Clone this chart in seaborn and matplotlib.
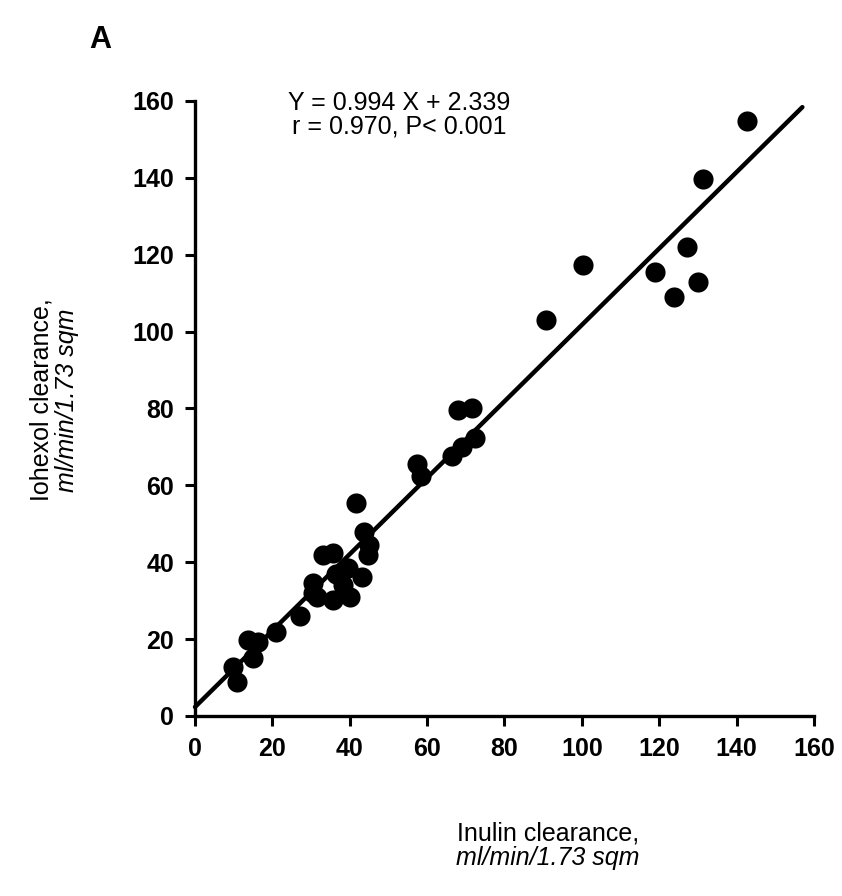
import seaborn as sns
import pandas as pd
from matplotlib import pyplot as plt

# values (ml/min/1.73 sqm)
inulin = [9.8, 10.9, 13.7, 16.3, 15.0, 20.9, 27.1, 30.5, 30.5, 31.5,
          33.1, 35.7, 35.7, 38.3, 40.0, 36.5, 39.5, 43.2, 44.7, 45.0,
          43.7, 41.6, 57.4, 58.5, 66.4, 69.0, 72.4, 68.0, 71.6, 90.7,
          100.3, 118.9, 123.8, 127.1, 130.0, 131.3, 142.6]
iohexol = [12.8, 8.9, 19.8, 19.2, 15.1, 21.9, 26.0, 32.0, 34.5, 31.0,
           41.9, 42.5, 30.2, 34.1, 31.0, 37.0, 38.5, 36.2, 41.9, 44.5,
           47.9, 55.5, 65.5, 62.5, 67.6, 70.0, 72.4, 79.7, 80.2, 102.9,
           117.4, 115.6, 109.1, 122.1, 112.8, 139.8, 154.7]

# regression as printed on the figure
slope = 0.994
intercept = 2.339
line_x = [0, 157]

ticks = [0, 20, 40, 60, 80, 100, 120, 140, 160]

df = pd.DataFrame({'inulin': inulin, 'iohexol': iohexol})
fit = pd.DataFrame({'x': line_x, 'y': [slope * v + intercept for v in line_x]})

sns.set_style('ticks')
plt.rcParams['font.family'] = ['Liberation Sans', 'DejaVu Sans']
plt.rcParams['text.color'] = 'black'

fig = plt.figure(figsize=(8.42, 8.96), dpi=100)
ax = fig.add_axes([0.2316, 0.2009, 0.7351, 0.6864])

sns.scatterplot(data=df, x='inulin', y='iohexol', ax=ax, color='black',
                s=210, edgecolor='black', linewidth=0, zorder=3, clip_on=False)
sns.lineplot(data=fit, x='x', y='y', ax=ax, color='black', linewidth=3.2,
             zorder=2, clip_on=False)

ax.set_xlim(0, 160)
ax.set_ylim(0, 160)
ax.set_xticks(ticks)
ax.set_yticks(ticks)
ax.set_xticklabels([str(t) for t in ticks], fontsize=18, fontweight='bold')
ax.set_yticklabels([str(t) for t in ticks], fontsize=18, fontweight='bold')
ax.tick_params(axis='both', direction='out', length=7, width=2.2, pad=8,
               colors='black')
ax.set_xlabel('')
ax.set_ylabel('')
sns.despine(ax=ax)
for side in ['left', 'bottom']:
    ax.spines[side].set_linewidth(2.4)
    ax.spines[side].set_color('black')

# fit equation in the upper left
ax.text(0.33, 0.997, 'Y = 0.994 X + 2.339', transform=ax.transAxes,
        ha='center', va='center', fontsize=18)
ax.text(0.33, 0.958, 'r = 0.970, P< 0.001', transform=ax.transAxes,
        ha='center', va='center', fontsize=18)

fig.text(100 / 842, 1 - 40 / 896, 'A', fontsize=22, fontweight='bold',
         ha='center', va='center')

fig.text(548 / 842, 1 - 833 / 896, 'Inulin clearance,', fontsize=18,
         ha='center', va='center')
fig.text(548 / 842, 1 - 858 / 896, 'ml/min/1.73 sqm', fontsize=18,
         style='italic', ha='center', va='center')

fig.text(42 / 842, 1 - 400 / 896, 'Iohexol clearance,', fontsize=18,
         rotation=90, ha='center', va='center')
fig.text(67 / 842, 1 - 400 / 896, 'ml/min/1.73 sqm', fontsize=18,
         style='italic', rotation=90, ha='center', va='center')

fig.savefig('out.png', dpi=100, facecolor='white')
